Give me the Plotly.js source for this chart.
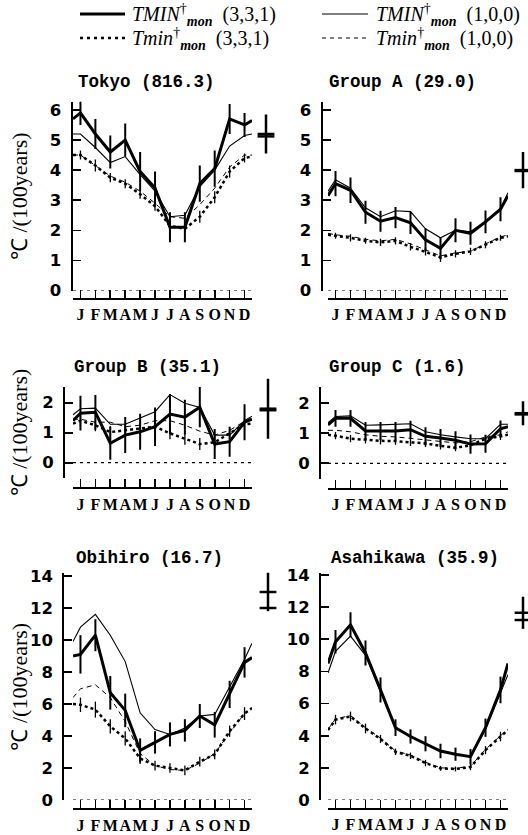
<!DOCTYPE html>
<html><head><meta charset="utf-8">
<script src="https://cdn.plot.ly/plotly-3.0.1.min.js"></script>
<style>html,body{margin:0;padding:0;background:#fff}#chart{width:528px;height:835px}</style>
</head><body><div id="chart"></div>
<script>
// ---------------- DATA ----------------
const months = ['J','F','M','A','M','J','J','A','S','O','N','D'];
const monthPos = [1,2,3,4,5,6,7,8,9,10,11,12];
// series arrays: [Dec/Jan wrap, Jan..Dec, Dec/Jan wrap]
const tokyoThick = [5.7, 5.9, 5.2, 4.6, 5.0, 3.95, 3.4, 2.1, 2.1, 3.55, 4.05, 5.7, 5.5, 5.65];
const tokyoThickErr = [0.4, 0.5, 0.55, 0.55, 0.65, 0.55, 0.5, 0.5, 0.6, 0.6, 0.5, 0.4];
const tokyoThin = [5.2, 5.2, 4.75, 4.25, 4.45, 3.85, 3.3, 2.45, 2.5, 3.45, 4.0, 4.8, 5.15, 5.2];
const tokyoDot = [4.5, 4.5, 4.15, 3.75, 3.55, 3.2, 2.8, 2.15, 2.05, 2.45, 3.1, 3.95, 4.4, 4.45];
const tokyoDotErr = [0.15, 0.2, 0.15, 0.15, 0.15, 0.15, 0.15, 0.15, 0.2, 0.2, 0.2, 0.15];
const tokyoDash = [4.5, 4.5, 4.15, 3.8, 3.6, 3.3, 2.9, 2.45, 2.4, 2.85, 3.4, 4.1, 4.5, 4.5];
const tokyoAnnual = [5.2, 5.12];
const tokyoAnnualErr = [0.65, 0];

const groupAThick = [3.15, 3.55, 3.33, 2.6, 2.3, 2.42, 2.25, 1.68, 1.4, 2.0, 1.9, 2.28, 2.7, 3.15];
const groupAThickErr = [0.42, 0.42, 0.38, 0.35, 0.35, 0.37, 0.38, 0.36, 0.4, 0.38, 0.38, 0.4];
const groupAThin = [3.3, 3.68, 3.4, 2.75, 2.45, 2.65, 2.62, 2.05, 1.75, 2.0, 1.95, 2.3, 2.72, 3.25];
const groupADot = [1.85, 1.82, 1.75, 1.65, 1.6, 1.65, 1.45, 1.28, 1.1, 1.22, 1.3, 1.52, 1.75, 1.8];
const groupADotErr = [0.1, 0.12, 0.1, 0.12, 0.12, 0.12, 0.12, 0.15, 0.12, 0.12, 0.12, 0.1];
const groupADash = [1.9, 1.85, 1.8, 1.7, 1.65, 1.7, 1.55, 1.35, 1.15, 1.25, 1.3, 1.55, 1.78, 1.85];
const groupAAnnual = [4.0, 3.97];
const groupAAnnualErr = [0.6, 0];

const groupBThick = [1.4, 1.65, 1.68, 0.65, 0.92, 1.03, 1.2, 1.62, 1.52, 1.85, 0.62, 0.7, 1.35, 1.45];
const groupBThickErr = [0.58, 0.58, 0.55, 0.6, 0.6, 0.64, 0.67, 0.58, 0.67, 0.5, 0.5, 0.6];
const groupBThin = [1.6, 1.8, 1.82, 1.28, 1.28, 1.48, 1.7, 2.27, 1.98, 1.84, 0.92, 0.92, 1.4, 1.55];
const groupBDot = [1.3, 1.4, 1.25, 1.02, 1.08, 1.14, 1.2, 0.98, 0.8, 0.62, 0.68, 0.98, 1.28, 1.3];
const groupBDotErr = [0.2, 0.2, 0.2, 0.2, 0.2, 0.2, 0.2, 0.2, 0.2, 0.2, 0.2, 0.2];
const groupBDash = [1.45, 1.45, 1.35, 1.35, 1.2, 1.25, 1.4, 1.4, 1.25, 1.05, 0.92, 1.08, 1.38, 1.5];
const groupBAnnual = [1.8, 1.75];
const groupBAnnualErr = [1.0, 0];

const groupCThick = [1.28, 1.5, 1.5, 1.08, 1.08, 1.08, 1.12, 0.9, 0.84, 0.77, 0.64, 0.65, 1.15, 1.22];
const groupCThickErr = [0.28, 0.28, 0.3, 0.3, 0.3, 0.3, 0.3, 0.3, 0.3, 0.32, 0.3, 0.28];
const groupCThin = [1.35, 1.56, 1.58, 1.27, 1.28, 1.3, 1.32, 1.05, 0.95, 0.88, 0.82, 0.82, 1.3, 1.3];
const groupCDot = [0.95, 0.92, 0.82, 0.78, 0.75, 0.74, 0.7, 0.66, 0.58, 0.52, 0.6, 0.82, 0.9, 0.95];
const groupCDotErr = [0.12, 0.12, 0.12, 0.12, 0.12, 0.12, 0.12, 0.12, 0.12, 0.12, 0.12, 0.12];
const groupCDash = [1.1, 1.1, 1.05, 0.95, 0.9, 0.88, 0.83, 0.78, 0.72, 0.68, 0.72, 0.88, 0.95, 1.05];
const groupCAnnual = [1.67, 1.63];
const groupCAnnualErr = [0.4, 0];

const obihiroThick = [9.0, 9.1, 10.3, 6.7, 5.6, 3.1, 3.6, 4.1, 4.35, 5.25, 4.7, 6.6, 8.6, 8.9];
const obihiroThickErr = [1.2, 1.0, 1.05, 1.05, 0.75, 0.7, 0.75, 0.7, 0.75, 0.8, 0.85, 0.95];
const obihiroThin = [9.9, 10.8, 11.6, 10.3, 8.65, 5.45, 4.4, 4.1, 4.5, 5.25, 5.35, 7.1, 8.8, 9.8];
const obihiroDot = [6.0, 5.95, 5.65, 4.6, 3.85, 2.6, 2.15, 2.0, 1.85, 2.4, 2.85, 4.3, 5.4, 5.75];
const obihiroDotErr = [0.45, 0.5, 0.45, 0.45, 0.35, 0.3, 0.3, 0.3, 0.3, 0.3, 0.35, 0.4];
const obihiroDash = [6.4, 6.95, 7.2, 6.4, 4.9, 2.9, 2.15, 1.9, 1.85, 2.3, 2.9, 4.2, 5.4, 5.75];
const obihiroAnnual = [13.0, 12.0];
const obihiroAnnualErr = [1.2, 0];

const asahikawaThick = [8.5, 9.85, 10.9, 9.15, 6.85, 4.5, 3.95, 3.5, 3.05, 2.85, 2.7, 4.5, 6.85, 8.5];
const asahikawaThickErr = [0.73, 0.78, 0.78, 0.78, 0.52, 0.44, 0.47, 0.45, 0.41, 0.47, 0.57, 0.83];
const asahikawaThin = [7.9, 9.25, 10.2, 9.0, 6.75, 4.5, 3.95, 3.5, 3.05, 2.85, 2.7, 4.4, 6.65, 7.8];
const asahikawaDot = [4.35, 5.0, 5.2, 4.45, 3.8, 3.0, 2.75, 2.3, 1.97, 1.93, 2.05, 3.1, 3.95, 4.35];
const asahikawaDotErr = [0.3, 0.3, 0.3, 0.25, 0.2, 0.2, 0.2, 0.15, 0.15, 0.2, 0.25, 0.3];
const asahikawaDash = [4.4, 5.05, 5.25, 4.5, 3.85, 3.05, 2.8, 2.35, 2.0, 1.97, 2.1, 3.15, 4.0, 4.4];
const asahikawaAnnual = [11.65, 11.2];
const asahikawaAnnualErr = [1.0, 0];

const panelTitles = ['Tokyo (816.3)', 'Group A (29.0)', 'Group B (35.1)', 'Group C (1.6)', 'Obihiro (16.7)', 'Asahikawa (35.9)'];
const yTitle = '\u2103 /(100years)';
const legendLabels = [
  '<i>TMIN</i><sup>\u2020</sup><sub><b><i>mon</i></b></sub>\u00a0\u00a0(3,3,1)',
  '<i>TMIN</i><sup>\u2020</sup><sub><b><i>mon</i></b></sub>\u00a0\u00a0(1,0,0)',
  '<i>Tmin</i><sup>\u2020</sup><sub><b><i>mon</i></b></sub>\u00a0\u00a0(3,3,1)',
  '<i>Tmin</i><sup>\u2020</sup><sub><b><i>mon</i></b></sub>\u00a0\u00a0(1,0,0)'
];

// ---------------- GEOMETRY ----------------
const W = 528, H = 835;
const px = v => v / W;
const py = v => 1 - v / H;
const BLACK = '#000';

const panels = [
  {thick: tokyoThick, thickErr: tokyoThickErr, thin: tokyoThin, dot: tokyoDot, dotErr: tokyoDotErr, dash: tokyoDash, ann: tokyoAnnual, annErr: tokyoAnnualErr,
   g: {x0: 73, x1: 252, yAx: 71.5, xAxY: 299, zero: 290.5, ppu: 30.1, top: 101.7, bot: 290.5, dtick: 1, mk: 266, tx: 76, ty: 82, ytitle: true}},
  {thick: groupAThick, thickErr: groupAThickErr, thin: groupAThin, dot: groupADot, dotErr: groupADotErr, dash: groupADash, ann: groupAAnnual, annErr: groupAAnnualErr,
   g: {x0: 328, x1: 508, yAx: 321.5, xAxY: 299, zero: 290.5, ppu: 30.1, top: 101.7, bot: 290.5, dtick: 1, mk: 523, tx: 327, ty: 82, ytitle: false}},
  {thick: groupBThick, thickErr: groupBThickErr, thin: groupBThin, dot: groupBDot, dotErr: groupBDotErr, dash: groupBDash, ann: groupBAnnual, annErr: groupBAnnualErr,
   g: {x0: 73, x1: 252, yAx: 64, xAxY: 488.3, zero: 462.7, ppu: 30, top: 386.7, bot: 478, dtick: 1, mk: 268, tx: 72, ty: 367, ytitle: true}},
  {thick: groupCThick, thickErr: groupCThickErr, thin: groupCThin, dot: groupCDot, dotErr: groupCDotErr, dash: groupCDash, ann: groupCAnnual, annErr: groupCAnnualErr,
   g: {x0: 328, x1: 508, yAx: 320, xAxY: 489, zero: 463.3, ppu: 30, top: 386.7, bot: 479, dtick: 1, mk: 523, tx: 327, ty: 367, ytitle: false}},
  {thick: obihiroThick, thickErr: obihiroThickErr, thin: obihiroThin, dot: obihiroDot, dotErr: obihiroDotErr, dash: obihiroDash, ann: obihiroAnnual, annErr: obihiroAnnualErr,
   g: {x0: 73, x1: 252, yAx: 63.3, xAxY: 809.3, zero: 800, ppu: 16, top: 573, bot: 800, dtick: 2, mk: 268, tx: 74, ty: 558, ytitle: true}},
  {thick: asahikawaThick, thickErr: asahikawaThickErr, thin: asahikawaThin, dot: asahikawaDot, dotErr: asahikawaDotErr, dash: asahikawaDash, ann: asahikawaAnnual, annErr: asahikawaAnnualErr,
   g: {x0: 328, x1: 508, yAx: 320, xAxY: 809, zero: 800, ppu: 16.07, top: 573, bot: 800, dtick: 2, mk: 523, tx: 329, ty: 558, ytitle: false}}
];

const xs = [0.5].concat(monthPos, [12.5]);
const padErr = e => [0].concat(e, [0]);

const traces = [];
const layout = {
  width: W, height: H, margin: {l: 0, r: 0, t: 0, b: 0},
  paper_bgcolor: '#fff', plot_bgcolor: 'rgba(0,0,0,0)', showlegend: false,
  shapes: [], annotations: []
};

panels.forEach((p, i) => {
  const n = i + 1, g = p.g;
  const xa = 'x' + n, ya = 'y' + n;
  const base = {xaxis: xa, yaxis: ya, mode: 'lines', cliponaxis: false, hoverinfo: 'skip'};
  traces.push(Object.assign({}, base, {x: xs, y: p.dash, line: {color: BLACK, width: 1, dash: '5px,4px'}}));
  traces.push(Object.assign({}, base, {x: xs, y: p.thin, line: {color: BLACK, width: 1.1}}));
  traces.push(Object.assign({}, base, {x: xs, y: p.dot, line: {color: BLACK, width: 2.5, dash: '3px,3px'},
    error_y: {type: 'data', array: padErr(p.dotErr), visible: true, color: BLACK, thickness: 1.3, width: 0}}));
  traces.push(Object.assign({}, base, {x: xs, y: p.thick, line: {color: BLACK, width: 3},
    error_y: {type: 'data', array: padErr(p.thickErr), visible: true, color: BLACK, thickness: 2, width: 0}}));

  layout['xaxis' + n] = {
    domain: [px(g.x0), px(g.x1)], range: [0.5, 12.5], anchor: 'free', position: py(g.xAxY),
    showline: true, linewidth: 2, linecolor: BLACK, ticks: 'inside', ticklen: 8, tickwidth: 1.6, tickcolor: BLACK,
    tickmode: 'array', tickvals: monthPos, ticktext: months, ticklabelstandoff: 1, tickangle: 0,
    tickfont: {family: 'Liberation Serif', size: 16, color: BLACK, weight: 'bold'},
    showgrid: false, zeroline: false, fixedrange: true
  };
  layout['yaxis' + n] = {
    domain: [py(g.bot), py(g.top)], range: [(g.zero - g.bot) / g.ppu, (g.zero - g.top) / g.ppu],
    anchor: 'free', position: px(g.yAx),
    showline: true, linewidth: 2, linecolor: BLACK, ticks: 'inside', ticklen: 8, tickwidth: 1.6, tickcolor: BLACK,
    tickmode: 'linear', tick0: 0, dtick: g.dtick, ticklabelstandoff: 6,
    tickfont: {family: 'DejaVu Sans', size: 16.5, color: BLACK, weight: 'bold'},
    showgrid: false, zeroline: false, fixedrange: true
  };

  // annual marker axes (same vertical scale, wider domain to avoid clipping)
  const mx = 'x' + (6 + n), my = 'y' + (12 + n);
  const mTop = g.top - 30, mBot = g.bot + 10;
  layout['xaxis' + (6 + n)] = {domain: [px(g.mk - 5), px(g.mk + 5)], range: [0, 1], anchor: my, visible: false, fixedrange: true};
  layout['yaxis' + (12 + n)] = {domain: [py(mBot), py(mTop)], range: [(g.zero - mBot) / g.ppu, (g.zero - mTop) / g.ppu],
    anchor: mx, visible: false, fixedrange: true};
  traces.push({x: [0.5, 0.5], y: p.ann, xaxis: mx, yaxis: my, mode: 'markers', cliponaxis: false, hoverinfo: 'skip',
    marker: {symbol: 'line-ew', size: 12, color: BLACK, line: {color: BLACK, width: 2.5}},
    error_y: {type: 'data', array: p.annErr, visible: true, color: BLACK, thickness: 2.5, width: 0}});

  // dotted zero line
  layout.shapes.push({type: 'line', xref: xa, yref: ya, x0: 0.5, x1: 12.5, y0: 0, y1: 0,
    line: {color: BLACK, width: 1.2, dash: '3px,4px'}});

  // panel title
  layout.annotations.push({text: '<b>' + panelTitles[i] + '</b>', xref: 'paper', yref: 'paper',
    x: px(g.tx), y: py(g.ty), xanchor: 'left', yanchor: 'middle', showarrow: false,
    font: {family: 'Liberation Mono', size: 17.5, color: BLACK}});
  if (g.ytitle) {
    layout.annotations.push({text: yTitle, xref: 'paper', yref: 'paper', textangle: -90,
      x: px(19), y: py((g.top + g.bot) / 2), xanchor: 'center', yanchor: 'middle', showarrow: false,
      font: {family: 'Liberation Serif', size: 22, color: BLACK}});
  }
});

// legend (manual)
const legendRows = [
  {x0: 80, x1: 125, y: 14, w: 3, dash: 'solid', tx: 130, label: legendLabels[0]},
  {x0: 322, x1: 368, y: 14, w: 1.1, dash: 'solid', tx: 374, label: legendLabels[1]},
  {x0: 80, x1: 125, y: 38, w: 2.5, dash: '3px,4px', tx: 130, label: legendLabels[2]},
  {x0: 322, x1: 368, y: 38, w: 1, dash: '4px,4px', tx: 374, label: legendLabels[3]}
];
legendRows.forEach(r => {
  layout.shapes.push({type: 'line', xref: 'paper', yref: 'paper', x0: px(r.x0), x1: px(r.x1), y0: py(r.y), y1: py(r.y),
    line: {color: BLACK, width: r.w, dash: r.dash}});
  layout.annotations.push({text: r.label, xref: 'paper', yref: 'paper', x: px(r.tx), y: py(r.y + 1),
    xanchor: 'left', yanchor: 'middle', showarrow: false, font: {family: 'Liberation Serif', size: 20, color: BLACK}});
});

Plotly.newPlot('chart', traces, layout, {staticPlot: true, displayModeBar: false});
</script></body></html>
